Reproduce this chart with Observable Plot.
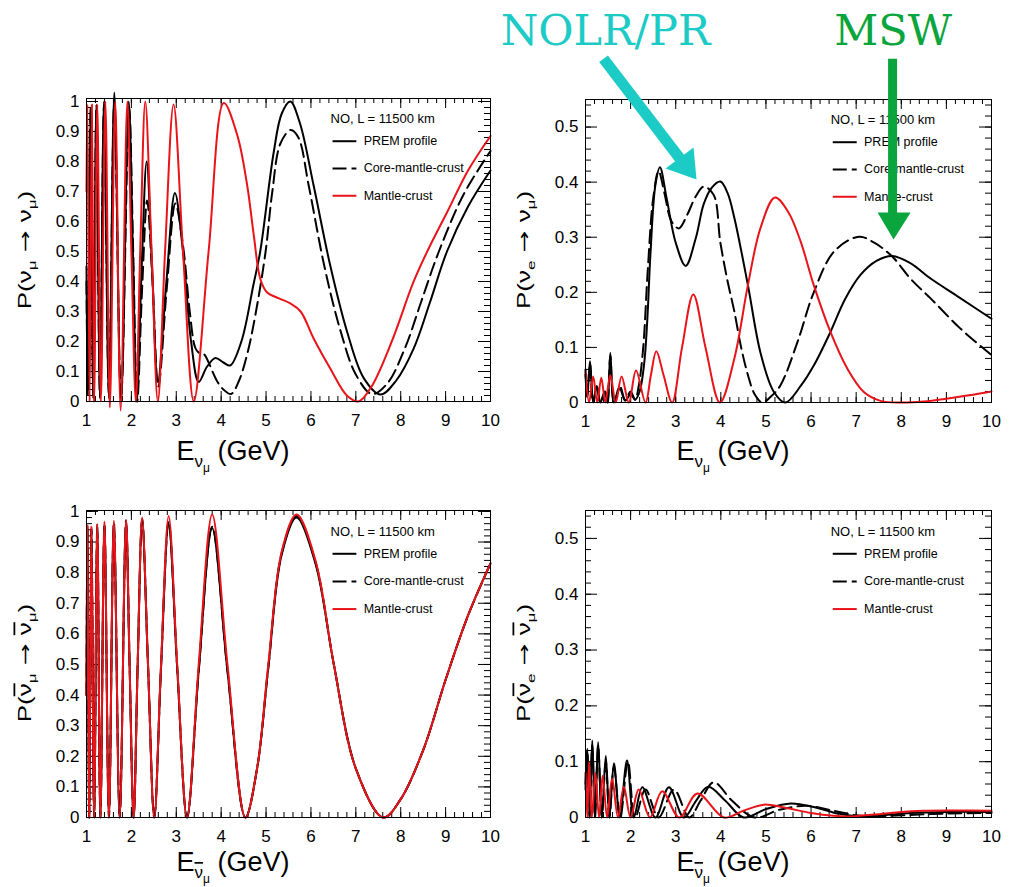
<!DOCTYPE html>
<html><head><meta charset="utf-8">
<script src="https://cdn.jsdelivr.net/npm/d3@7"></script>
<script src="https://cdn.jsdelivr.net/npm/@observablehq/plot@0.6"></script>
<style>
body{margin:0;background:#fff;}
#wrap{position:relative;width:1015px;height:887px;overflow:hidden;background:#fff;}
#wrap > div{position:absolute;}
</style></head><body><div id="wrap"></div>
<script>
const FONT = "'Liberation Sans', Arial, Helvetica, sans-serif";
const SERIF = "'DejaVu Serif', 'Liberation Serif', serif";
const CYAN = "#1ccbc6", GREEN = "#0aa53c", RED = "#e8141a";

const xMajor = [1,2,3,4,5,6,7,8,9,10];
const yMajorSurv = [0,0.1,0.2,0.3,0.4,0.5,0.6,0.7,0.8,0.9,1];
const yMajorApp = [0,0.1,0.2,0.3,0.4,0.5];
const legendTitle = "NO, L = 11500 km";
const seriesNames = ["PREM profile","Core-mantle-crust","Mantle-crust"];
const annotationLabels = ["NOLR/PR","MSW"];

// ---- top-left: P(numu -> numu) ----
const tlPrem = [[1.00,0.45],[1.03,0.02],[1.09,0.98],[1.15,0.01],[1.22,0.99],[1.30,0.01],[1.39,1.00],[1.50,0.01],[1.62,1.03],[1.77,0.00],[1.94,1.00],[2.03,0.52],[2.12,0.00],[2.23,0.45],[2.34,0.80],[2.46,0.45],[2.59,0.065],[2.78,0.40],[2.97,0.695],[3.15,0.50],[3.33,0.20],[3.50,0.065],[3.68,0.115],[3.87,0.145],[4.05,0.13],[4.20,0.12],[4.45,0.20],[4.72,0.39],[4.87,0.50],[5.17,0.83],[5.35,0.96],[5.54,1.00],[5.75,0.93],[6.06,0.72],[6.43,0.453],[6.81,0.23],[7.18,0.077],[7.55,0.023],[7.90,0.07],[8.29,0.177],[8.65,0.33],[9.03,0.50],[9.50,0.65],[10.0,0.77]];
const tlCmc = [[1.00,0.40],[1.03,0.03],[1.09,0.97],[1.15,0.02],[1.22,0.98],[1.30,0.02],[1.39,0.99],[1.50,0.02],[1.62,1.00],[1.77,0.01],[1.95,0.98],[2.04,0.50],[2.13,0.00],[2.24,0.38],[2.35,0.67],[2.47,0.40],[2.60,0.05],[2.79,0.38],[2.98,0.66],[3.15,0.52],[3.30,0.30],[3.42,0.18],[3.50,0.163],[3.62,0.157],[3.72,0.13],[3.90,0.07],[4.05,0.04],[4.22,0.025],[4.40,0.07],[4.60,0.17],[4.80,0.32],[4.99,0.50],[5.14,0.70],[5.32,0.86],[5.55,0.905],[5.72,0.88],[5.95,0.72],[6.30,0.45],[6.65,0.24],[7.00,0.09],[7.36,0.025],[7.70,0.06],[8.10,0.18],[8.45,0.33],[8.85,0.50],[9.40,0.69],[10.0,0.835]];
const tlMc = [[1.00,0.70],[1.02,0.99],[1.07,0.00],[1.12,0.99],[1.17,0.00],[1.24,0.99],[1.32,0.00],[1.42,1.00],[1.52,-0.02],[1.64,1.00],[1.76,-0.03],[1.91,1.00],[2.00,0.50],[2.10,0.00],[2.20,0.52],[2.31,1.00],[2.45,0.50],[2.59,0.00],[2.75,0.50],[2.94,0.99],[3.15,0.50],[3.39,0.00],[3.72,0.50],[4.06,0.995],[4.36,0.887],[4.58,0.72],[4.73,0.55],[4.87,0.41],[5.02,0.364],[5.30,0.343],[5.54,0.327],[5.77,0.30],[6.06,0.21],[6.43,0.11],[6.80,0.02],[7.06,0.00],[7.35,0.05],[7.80,0.20],[8.28,0.397],[8.59,0.50],[9.03,0.63],[9.50,0.77],[10.0,0.885]];

// ---- top-right: P(nue -> numu) ----
const trPrem = [[1.00,0.06],[1.04,0.01],[1.10,0.075],[1.17,0.00],[1.25,0.03],[1.33,0.00],[1.43,0.02],[1.49,0.00],[1.55,0.09],[1.63,0.00],[1.76,0.025],[1.88,0.003],[2.00,0.015],[2.10,0.005],[2.20,0.02],[2.30,0.07],[2.37,0.15],[2.44,0.27],[2.55,0.395],[2.65,0.427],[2.80,0.37],[3.00,0.29],[3.22,0.248],[3.45,0.30],[3.62,0.36],[3.80,0.39],[3.99,0.401],[4.15,0.38],[4.30,0.335],[4.60,0.213],[4.88,0.09],[5.17,0.02],[5.43,0.00],[5.77,0.03],[6.06,0.067],[6.43,0.128],[6.75,0.187],[7.10,0.232],[7.45,0.257],[7.80,0.266],[8.20,0.253],[8.65,0.225],[9.30,0.19],[10.0,0.152]];
const trCmc = [[1.00,0.05],[1.04,0.01],[1.10,0.07],[1.17,0.00],[1.25,0.03],[1.33,0.00],[1.43,0.02],[1.49,0.00],[1.55,0.085],[1.63,0.00],[1.76,0.03],[1.88,0.005],[2.00,0.02],[2.10,0.005],[2.18,0.03],[2.28,0.10],[2.38,0.24],[2.50,0.37],[2.62,0.42],[2.75,0.38],[2.90,0.33],[3.07,0.316],[3.25,0.34],[3.45,0.375],[3.62,0.392],[3.84,0.377],[3.99,0.29],[4.15,0.22],[4.30,0.165],[4.45,0.10],[4.60,0.05],[4.75,0.015],[4.92,0.00],[5.10,0.01],[5.32,0.031],[5.70,0.11],[6.06,0.20],[6.51,0.274],[7.06,0.301],[7.40,0.29],[7.80,0.265],[8.20,0.225],[8.65,0.189],[9.30,0.135],[10.0,0.086]];
const trMc = [[1.00,0.055],[1.08,0.00],[1.17,0.047],[1.26,0.00],[1.35,0.045],[1.44,0.00],[1.55,0.05],[1.67,0.00],[1.80,0.047],[1.96,0.00],[2.12,0.058],[2.33,0.00],[2.45,0.05],[2.57,0.093],[2.73,0.05],[2.92,0.00],[3.14,0.10],[3.39,0.196],[3.66,0.10],[3.98,0.00],[4.30,0.08],[4.60,0.213],[4.88,0.317],[5.20,0.372],[5.50,0.345],[5.77,0.292],[6.06,0.213],[6.43,0.128],[6.80,0.062],[7.17,0.019],[7.54,0.003],[8.00,0.00],[8.50,0.002],[9.00,0.007],[9.50,0.013],[10.0,0.02]];

// ---- bottom-left: P(anti-numu -> anti-numu) ----
const blPrem = [[1.00,0.40],[1.02,0.95],[1.06,0.00],[1.11,0.94],[1.17,0.00],[1.24,0.95],[1.31,0.00],[1.40,0.96],[1.50,0.00],[1.61,0.96],[1.74,0.00],[1.88,0.965],[1.96,0.50],[2.05,0.00],[2.14,0.50],[2.24,0.97],[2.37,0.50],[2.51,0.00],[2.66,0.49],[2.83,0.96],[3.02,0.49],[3.24,0.00],[3.50,0.48],[3.80,0.945],[4.14,0.48],[4.54,0.00],[4.80,0.16],[5.05,0.49],[5.35,0.86],[5.68,0.98],[6.10,0.83],[6.51,0.50],[7.00,0.16],[7.61,0.00],[8.00,0.06],[8.50,0.22],[9.00,0.45],[9.50,0.66],[10.0,0.83]];
const blCmc = [[1.00,0.40],[1.02,0.95],[1.06,0.00],[1.11,0.945],[1.17,0.00],[1.24,0.955],[1.31,0.00],[1.40,0.96],[1.50,0.00],[1.61,0.965],[1.74,0.00],[1.88,0.97],[1.96,0.50],[2.05,0.00],[2.14,0.50],[2.24,0.975],[2.37,0.50],[2.51,0.00],[2.66,0.49],[2.83,0.965],[3.02,0.49],[3.24,0.00],[3.50,0.48],[3.80,0.95],[4.14,0.48],[4.54,0.00],[4.80,0.16],[5.05,0.49],[5.35,0.865],[5.68,0.985],[6.10,0.835],[6.51,0.50],[7.00,0.16],[7.61,0.00],[8.00,0.06],[8.50,0.22],[9.00,0.45],[9.50,0.66],[10.0,0.83]];
const blMc = [[1.00,0.40],[1.02,0.955],[1.06,0.00],[1.11,0.95],[1.17,0.00],[1.24,0.96],[1.31,0.00],[1.40,0.967],[1.50,0.00],[1.61,0.97],[1.74,0.00],[1.88,0.973],[1.96,0.50],[2.05,0.00],[2.14,0.50],[2.24,0.98],[2.37,0.50],[2.51,0.00],[2.66,0.50],[2.83,0.985],[3.02,0.50],[3.24,0.00],[3.50,0.50],[3.80,0.99],[4.14,0.50],[4.54,0.00],[4.80,0.16],[5.05,0.50],[5.35,0.87],[5.68,0.99],[6.10,0.84],[6.51,0.50],[7.00,0.16],[7.61,0.00],[8.00,0.06],[8.50,0.22],[9.00,0.45],[9.50,0.66],[10.0,0.83]];

// ---- bottom-right: P(anti-nue -> anti-numu) ----
const brPrem = [[1.00,0.05],[1.04,0.123],[1.09,0.00],[1.15,0.138],[1.21,0.00],[1.28,0.135],[1.36,0.00],[1.45,0.11],[1.53,0.00],[1.63,0.097],[1.76,0.00],[1.92,0.102],[2.07,0.00],[2.26,0.054],[2.55,0.00],[2.85,0.054],[3.18,0.00],[3.45,0.03],[3.72,0.055],[4.10,0.03],[4.51,0.00],[5.00,0.015],[5.55,0.025],[6.10,0.018],[6.60,0.007],[7.10,0.002],[7.60,0.004],[8.20,0.008],[9.00,0.01],[10.0,0.01]];
const brCmc = [[1.00,0.06],[1.04,0.12],[1.09,0.00],[1.15,0.13],[1.21,0.00],[1.28,0.13],[1.36,0.00],[1.45,0.10],[1.53,0.00],[1.63,0.09],[1.77,0.00],[1.94,0.10],[2.10,0.00],[2.33,0.05],[2.62,0.00],[2.96,0.05],[3.30,0.00],[3.55,0.03],[3.84,0.063],[4.25,0.03],[4.75,0.00],[5.30,0.014],[5.90,0.021],[6.50,0.012],[7.00,0.004],[7.40,0.002],[8.00,0.004],[9.00,0.007],[10.0,0.008]];
const brMc = [[1.00,0.08],[1.04,0.00],[1.08,0.10],[1.14,0.00],[1.22,0.08],[1.30,0.00],[1.38,0.075],[1.48,0.00],[1.59,0.07],[1.72,0.00],[1.85,0.055],[2.00,0.00],[2.18,0.05],[2.43,0.00],[2.70,0.047],[3.08,0.00],[3.48,0.043],[4.07,0.00],[4.50,0.012],[4.95,0.023],[5.40,0.018],[6.00,0.008],[6.50,0.003],[6.90,0.002],[7.50,0.006],[8.00,0.01],[8.50,0.012],[9.00,0.0125],[10.0,0.012]];

// ---- annotations (top-right panel data coordinates) ----
const annotTextPos = [[1.443,0.674],[7.82,0.674]];
const cyanShaft = [[1.40,0.624],[3.12,0.440]];
const cyanHead = [[2.774,0.4248],[3.395,0.4629],[3.461,0.4048],[2.774,0.4248]];
const greenShaft = [[7.807,0.624],[7.807,0.336]];
const greenHead = [[7.475,0.345],[8.206,0.345],[7.829,0.296],[7.475,0.345]];

const seriesStyle = [
  {stroke:"black", dash:null},
  {stroke:"black", dash:"13,6"},
  {stroke:RED, dash:null}
];
const legendFx = {title:0.604, l1:0.609, l2:0.668, text:0.686};
const legendFy = {title:0.932, rows:[0.859,0.769,0.679]};

function curveMarks(sets){
  return sets.map((data,i)=>Plot.line(data,{x:d=>d[0], y:d=>d[1], curve:"catmull-rom",
    stroke:seriesStyle[i].stroke, strokeWidth:2, strokeDasharray:seriesStyle[i].dash||undefined, strokeLinejoin:"round"}));
}
function legendMarks(yMax){
  const X = f => 1 + 9*f, Y = f => yMax*f;
  const m = [Plot.text([legendTitle],{x:X(legendFx.title), y:Y(legendFy.title), text:d=>d, textAnchor:"start", fontSize:13, fill:"black"})];
  seriesNames.forEach((name,i)=>{
    const y = Y(legendFy.rows[i]);
    m.push(Plot.link([name],{x1:X(legendFx.l1), x2:X(legendFx.l2), y1:y, y2:y, stroke:seriesStyle[i].stroke, strokeWidth:2, strokeDasharray:i===1?"14,5":undefined}));
    m.push(Plot.text([name],{x:X(legendFx.text), y, text:d=>d, textAnchor:"start", fontSize:12.5, fill:"black"}));
  });
  return m;
}
function panel(o){
  const iw = o.width - o.ml - o.mr, ih = o.height - o.mt - o.mb;
  const xMinor = d3.range(1, 10.001, 0.2);
  const yMinor = d3.range(0, o.yMax + 1e-9, 0.02);
  const marks = [
    Plot.ruleX(xMinor,{x:d=>d, insetTop:ih-5, stroke:"black"}),
    Plot.ruleX(xMajor,{x:d=>d, insetTop:ih-10, stroke:"black"}),
    Plot.ruleX(xMinor,{x:d=>d, insetBottom:ih-5, stroke:"black"}),
    Plot.ruleX(xMajor,{x:d=>d, insetBottom:ih-10, stroke:"black"}),
    Plot.ruleY(yMinor,{y:d=>d, insetRight:iw-6, stroke:"black"}),
    Plot.ruleY(o.yMajor,{y:d=>d, insetRight:iw-12, stroke:"black"}),
    Plot.ruleY(yMinor,{y:d=>d, insetLeft:iw-6, stroke:"black"}),
    Plot.ruleY(o.yMajor,{y:d=>d, insetLeft:iw-12, stroke:"black"}),
    ...curveMarks(o.curves),
    ...legendMarks(o.yMax),
    Plot.frame({stroke:"black", strokeWidth:1}),
    ...(o.extra||[])
  ];
  return Plot.plot({
    width:o.width, height:o.height,
    marginLeft:o.ml, marginRight:o.mr, marginTop:o.mt, marginBottom:o.mb,
    x:{domain:[1,10], ticks:xMajor, tickSize:0, tickPadding:12, tickFormat:d3.format("~g"), label:null},
    y:{domain:[0,o.yMax], ticks:o.yMajor, tickSize:0, tickPadding:7, tickFormat:d3.format("~g"), label:null},
    style:{fontFamily:FONT, fontSize:"17px", background:"white", color:"black", overflow:"visible"},
    marks
  });
}
function nuSpan(t, bar, size){
  const s = t.append("tspan").attr("font-size", size).text("ν");
  if (bar) s.style("text-decoration","overline");
  return s;
}
function addXLabel(svg, x, y, bar){
  const t = d3.select(svg).append("text").attr("x",x).attr("y",y)
    .attr("font-family",FONT).attr("font-size",27).attr("fill","black");
  t.append("tspan").text("E");
  nuSpan(t, bar, 17).attr("dy",7);
  t.append("tspan").attr("font-size",12).attr("dy",5).text("μ");
  t.append("tspan").attr("font-size",27).attr("dy",-12).text(" (GeV)");
}
function addYLabel(svg, x, y, bar, flav1){
  const g = d3.select(svg).append("g").attr("transform",`translate(${x},${y}) rotate(-90) scale(1,0.68)`);
  const t = g.append("text").attr("text-anchor","middle").attr("font-family",FONT).attr("font-size",26).attr("fill","black");
  t.append("tspan").text("P(");
  nuSpan(t, bar, 26);
  t.append("tspan").attr("font-size",17).attr("dy",7).text(flav1);
  t.append("tspan").attr("font-size",26).attr("dy",-7).attr("font-family","'DejaVu Sans', sans-serif").text(" → ");
  nuSpan(t, bar, 26);
  t.append("tspan").attr("font-size",17).attr("dy",7).text("μ");
  t.append("tspan").attr("font-size",26).attr("dy",-7).text(")");
}
function place(svg, left, top){
  const d = document.createElement("div");
  d.style.left = left+"px"; d.style.top = top+"px";
  d.appendChild(svg);
  document.getElementById("wrap").appendChild(d);
}

const xy = {x:d=>d[0], y:d=>d[1]};
const annotations = [
  Plot.line(cyanShaft,{...xy, stroke:CYAN, strokeWidth:11, strokeLinecap:"butt"}),
  Plot.line(cyanHead,{...xy, fill:CYAN, stroke:"none"}),
  Plot.line(greenShaft,{...xy, stroke:GREEN, strokeWidth:9, strokeLinecap:"butt"}),
  Plot.line(greenHead,{...xy, fill:GREEN, stroke:"none"}),
  Plot.text([annotationLabels[0]],{x:annotTextPos[0][0], y:annotTextPos[0][1], text:d=>d, fill:CYAN, fontSize:43, fontFamily:SERIF, textAnchor:"middle"}),
  Plot.text([annotationLabels[1]],{x:annotTextPos[1][0], y:annotTextPos[1][1], text:d=>d, fill:GREEN, fontSize:43, fontFamily:SERIF, textAnchor:"middle"})
];

const tl = panel({width:500, height:480, ml:86, mr:10, mt:98, mb:79, yMax:1.01, yMajor:yMajorSurv, curves:[tlPrem,tlCmc,tlMc]});
addXLabel(tl, 233, 460, false); addYLabel(tl, 31, 250, false, "μ");
place(tl, 0, 0);

const tr = panel({width:515, height:480, ml:85, mr:24, mt:99, mb:78, yMax:0.55, yMajor:yMajorApp, curves:[trPrem,trCmc,trMc], extra:annotations});
addXLabel(tr, 233, 460, false); addYLabel(tr, 30, 250, false, "e");
place(tr, 500, 0);

const bl = panel({width:500, height:407, ml:86, mr:10, mt:30, mb:70, yMax:1.003, yMajor:yMajorSurv, curves:[blPrem,blCmc,blMc]});
addXLabel(bl, 233, 391, true); addYLabel(bl, 31, 183, true, "μ");
place(bl, 0, 480);

const br = panel({width:515, height:407, ml:85, mr:24, mt:30, mb:70, yMax:0.55, yMajor:yMajorApp, curves:[brPrem,brCmc,brMc]});
addXLabel(br, 233, 391, true); addYLabel(br, 30, 183, true, "e");
place(br, 500, 480);
</script>
</body></html>
